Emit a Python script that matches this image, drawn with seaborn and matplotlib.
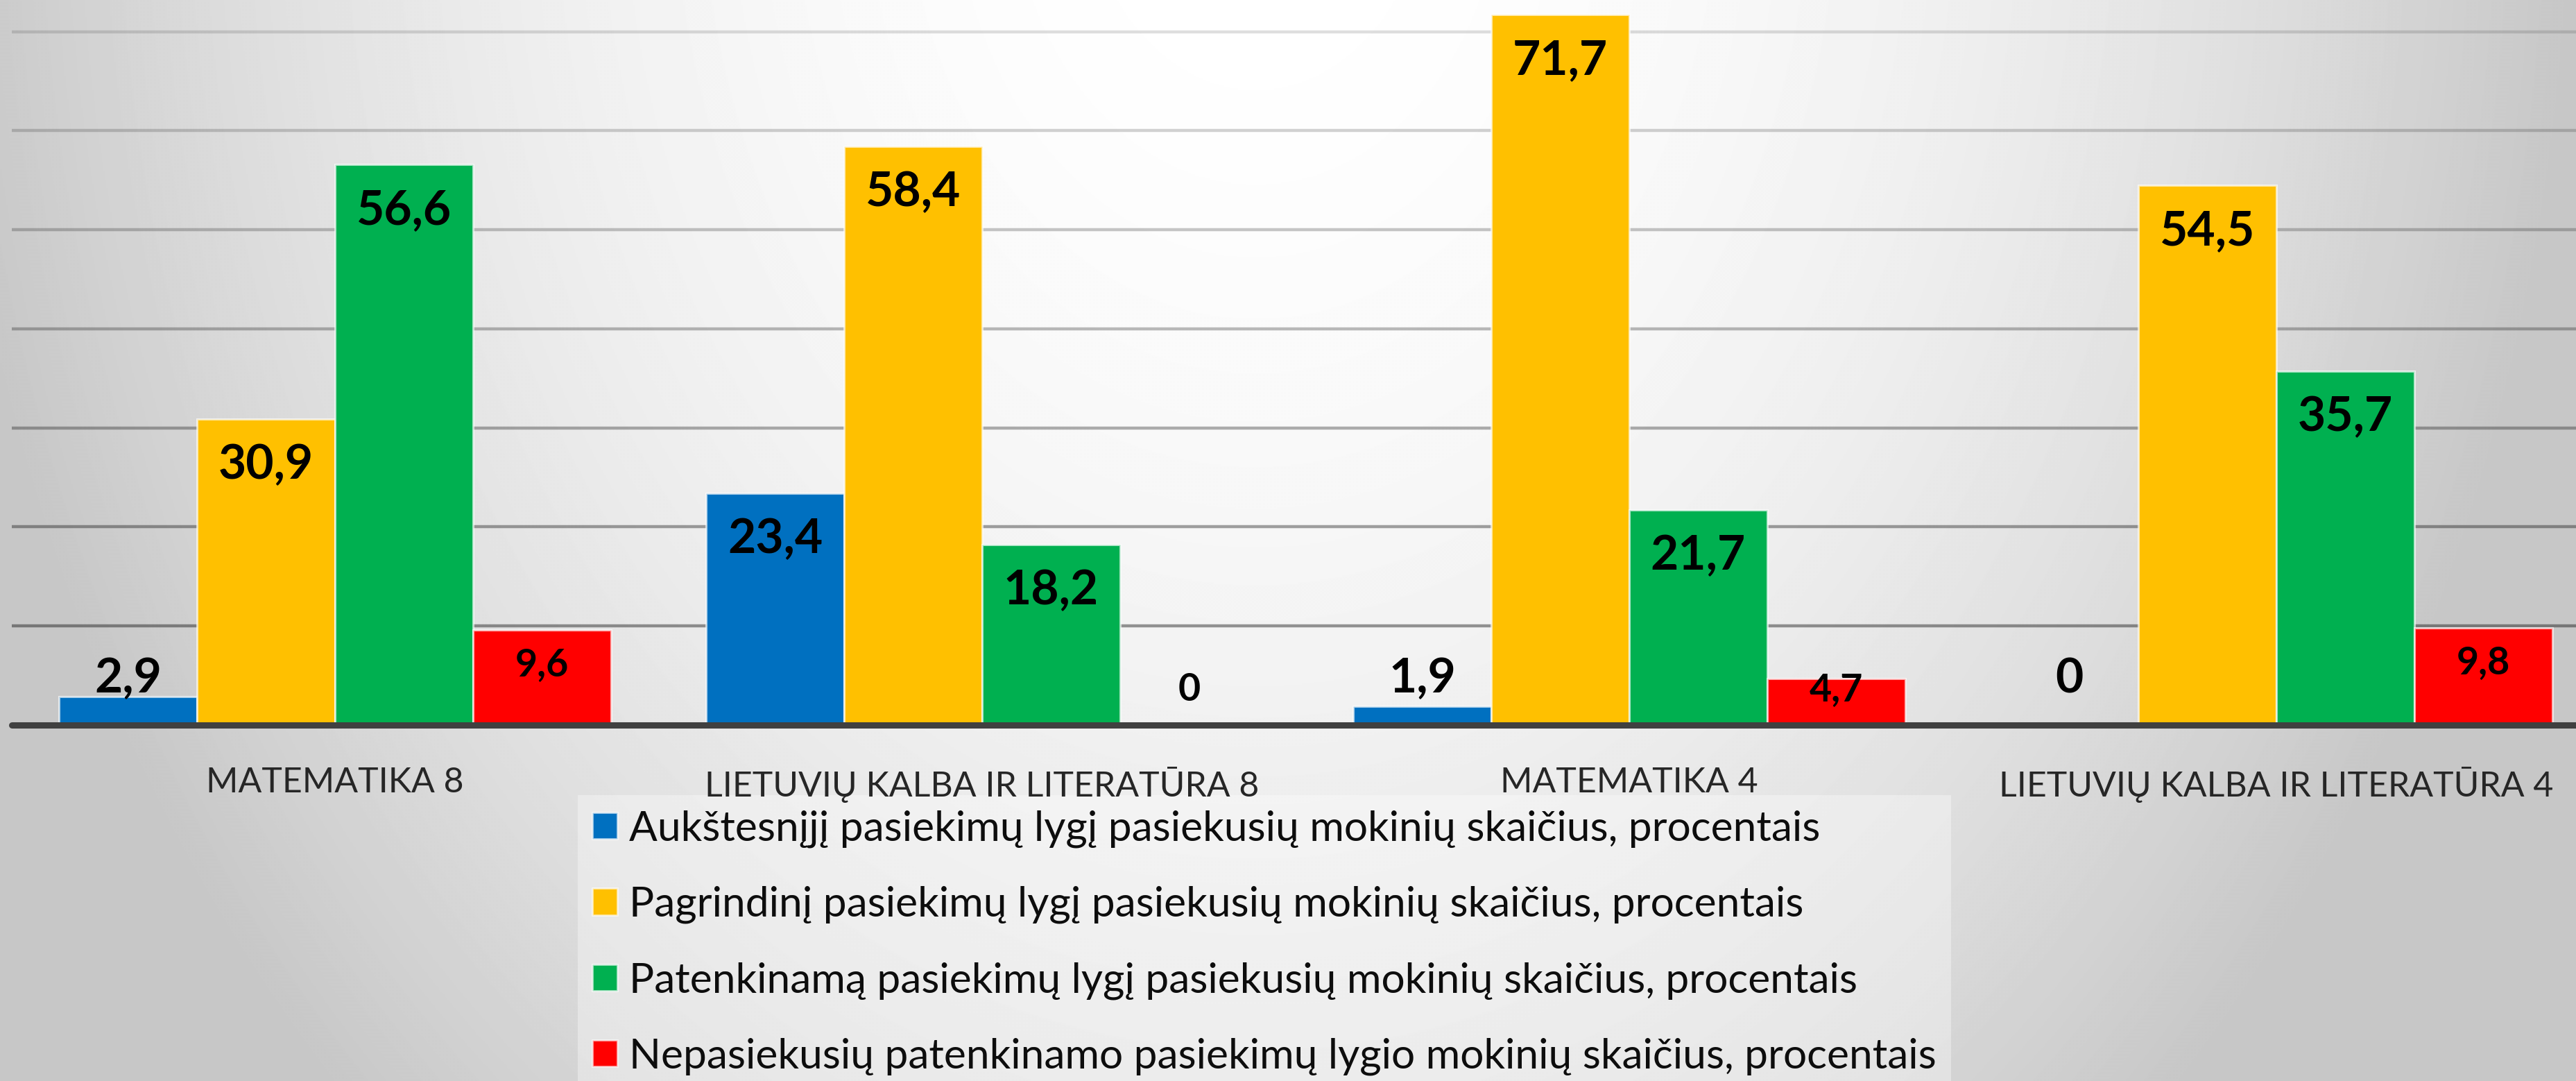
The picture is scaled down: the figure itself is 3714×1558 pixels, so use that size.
import numpy as np
import pandas as pd
import matplotlib.pyplot as plt
from matplotlib.patches import Patch
import seaborn as sns

# data
categories = ["MATEMATIKA 8", "LIETUVIŲ KALBA IR LITERATŪRA 8",
              "MATEMATIKA 4", "LIETUVIŲ KALBA IR LITERATŪRA 4"]
series_names = [
    "Aukštesnįjį pasiekimų lygį pasiekusių mokinių skaičius, procentais",
    "Pagrindinį pasiekimų lygį pasiekusių mokinių skaičius, procentais",
    "Patenkinamą pasiekimų lygį pasiekusių mokinių skaičius, procentais",
    "Nepasiekusių patenkinamo pasiekimų lygio mokinių skaičius, procentais",
]
aukstesnysis = [2.9, 23.4, 1.9, 0]
pagrindinis = [30.9, 58.4, 71.7, 54.5]
patenkinamas = [56.6, 18.2, 21.7, 35.7]
nepasieke = [9.6, 0, 4.7, 9.8]
colors = ["#0070C0", "#FFC000", "#00B050", "#FF0000"]

values = [aukstesnysis, pagrindinis, patenkinamas, nepasieke]
df = pd.DataFrame({
    "dalykas": categories * 4,
    "lygis": [s for s in series_names for _ in categories],
    "procentai": [v for vals in values for v in vals],
})

sns.set_style("white")
plt.rcParams["font.family"] = ["Lato", "DejaVu Sans"]

W, H = 3714, 1558
fig = plt.figure(figsize=(W / 100, H / 100), dpi=100)

# radial grey background
bg = fig.add_axes([0, 0, 1, 1], zorder=-1)
yy, xx = np.mgrid[0:H:2, 0:W:2]
r2 = ((xx - 1810) / 1810.0) ** 2 + ((yy + 200) / 2360.0) ** 2
shade = np.clip(1 - 0.2 * r2, 0.78, 1.0)
bg.imshow(shade, cmap="gray", vmin=0, vmax=1, aspect="auto", extent=[0, 1, 0, 1])
bg.axis("off")

ax = fig.add_axes([16.5 / W, 1 - 1045 / H, 1 - 16.5 / W, 1045 / H])
ax.set_facecolor("none")

edge = (1, 1, 1, 0.65)
sns.barplot(data=df, x="dalykas", y="procentai", hue="lygis", palette=colors,
            saturation=1, width=0.853, errorbar=None, edgecolor=edge,
            linewidth=2.2, legend=False, ax=ax)

ax.set_xlim(-0.5, 3.463)
ax.set_ylim(0, 73.2)
ax.set_yticks(range(10, 80, 10))
ax.set_axisbelow(True)
ax.grid(axis="y", color="black", linewidth=3.2)
for i, gl in enumerate(ax.get_ygridlines()):
    gl.set_alpha(0.40 - i * 0.045)
ax.axhline(0, color="#404040", linewidth=6.5, zorder=3, clip_on=False)
for s in ax.spines.values():
    s.set_visible(False)
ax.tick_params(axis="y", left=False, labelleft=False)
ax.tick_params(axis="x", bottom=False, labelsize=36, labelcolor="#262626", pad=40)
ax.set_xlabel("")
ax.set_ylabel("")

# value labels
for k, cont in enumerate(ax.containers):
    for bar, v in zip(cont, values[k]):
        xc = bar.get_x() + bar.get_width() / 2
        txt = f"{v:g}".replace(".", ",")
        if k == 3:
            yc = max(v - 3.5, 3.6)
            fs = 40
        else:
            yc = max(v - 4.65, 4.65)
            fs = 50
        ax.text(xc, yc, txt, ha="center", va="center", fontsize=fs,
                fontweight="bold", color="black", zorder=5)

handles = [Patch(facecolor=c, edgecolor=edge, linewidth=2) for c in colors]
leg = fig.legend(handles, series_names, loc="upper left",
                 bbox_to_anchor=(833 / W, 1 - 1146 / H), fontsize=43.5,
                 frameon=True, fancybox=False, framealpha=0.35,
                 facecolor="white", edgecolor="none",
                 handlelength=0.6, handleheight=0.6, handletextpad=0.28,
                 labelspacing=0.91, borderpad=0.35, borderaxespad=0)
leg.set_zorder(-0.5)
for t in leg.get_texts():
    t.set_color("#0d0d0d")

fig.savefig("out.png", dpi=100)
